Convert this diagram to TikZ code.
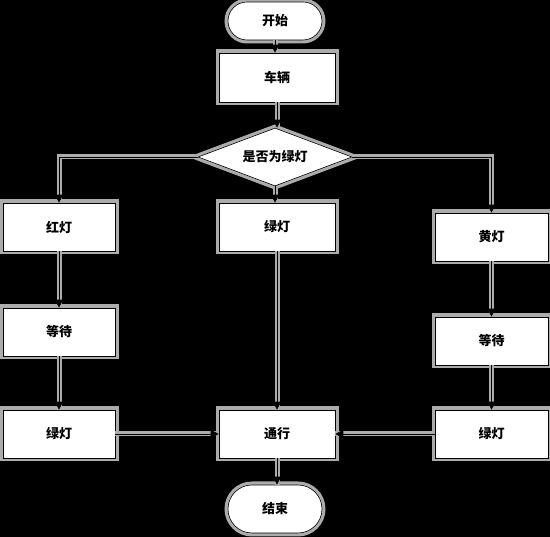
\documentclass[tikz,border=0pt]{standalone}
\usepackage{fontspec}
\newfontfamily\cjk{Noto Sans CJK SC}
\usetikzlibrary{shapes.geometric,arrows.meta}
\tikzset{
  x=1pt, y=-1pt,
  halo/.style={preaction={draw=gray!65, line width=7pt}},
  box/.style={draw=black, fill=white, line width=0.6pt, halo,
    minimum width=#1, minimum height=48pt, inner sep=0pt,
    font=\cjk\bfseries\fontsize{13pt}{15pt}\selectfont},
  box/.default=114pt,
  term/.style={box=94pt, rounded corners=19pt, minimum height=38pt},
  choice/.style={draw=black, fill=white, line width=0.6pt, halo,
    diamond, aspect=2.65, minimum width=154pt, minimum height=58pt, inner sep=0pt,
    font=\cjk\bfseries\fontsize{13pt}{15pt}\selectfont},
  wire/.style={black, line width=0.8pt,
    -{Triangle[length=8pt,width=8pt]},
    preaction={draw=gray!65, line width=5pt, arrows=-}},
}
\begin{document}
\begin{tikzpicture}
\useasboundingbox[fill=black] (0,0) rectangle (550,537);

% trunk
\node[term] (start) at (275,21) {开始};
\node[box=116pt, minimum height=49pt] (car) at (277,77.5) {车辆};
\node[choice] (dec) at (275,157) {是否为绿灯};

% left branch: red light
\node[box=112pt] (red) at (59,227) {红灯};
\node[box=112pt] (waitL) at (59,332) {等待};
\node[box=112pt] (greenL) at (59,434) {绿灯};

% middle branch: green light
\node[box=116pt] (greenM) at (277,227) {绿灯};
\node[box=116pt] (pass) at (277,434) {通行};
\node[term, minimum height=48pt, rounded corners=24pt] (stop) at (275,509) {结束};

% right branch: yellow light
\node[box=113pt] (yellow) at (491.5,237) {黄灯};
\node[box=113pt] (waitR) at (491.5,341) {等待};
\node[box=113pt] (greenR) at (491.5,434) {绿灯};

% connectors
\draw[wire] (start.south) -- (start.south |- car.north);
\draw[wire] (car.south) -- (car.south |- dec.north);
\draw[wire] (dec.west) -| (red.north);
\draw[wire] (dec.east) -| (yellow.north);
\draw[wire] (dec.south) -- (dec.south |- greenM.north);
\draw[wire] (red) -- (waitL);
\draw[wire] (waitL) -- (greenL);
\draw[wire] (yellow) -- (waitR);
\draw[wire] (waitR) -- (greenR);
\draw[wire] (greenM) -- (pass);
\draw[wire] (greenL) -- (pass);
\draw[wire] (greenR) -- (pass);
\draw[wire] (pass.south) -- (pass.south |- stop.north);
\end{tikzpicture}
\end{document}
